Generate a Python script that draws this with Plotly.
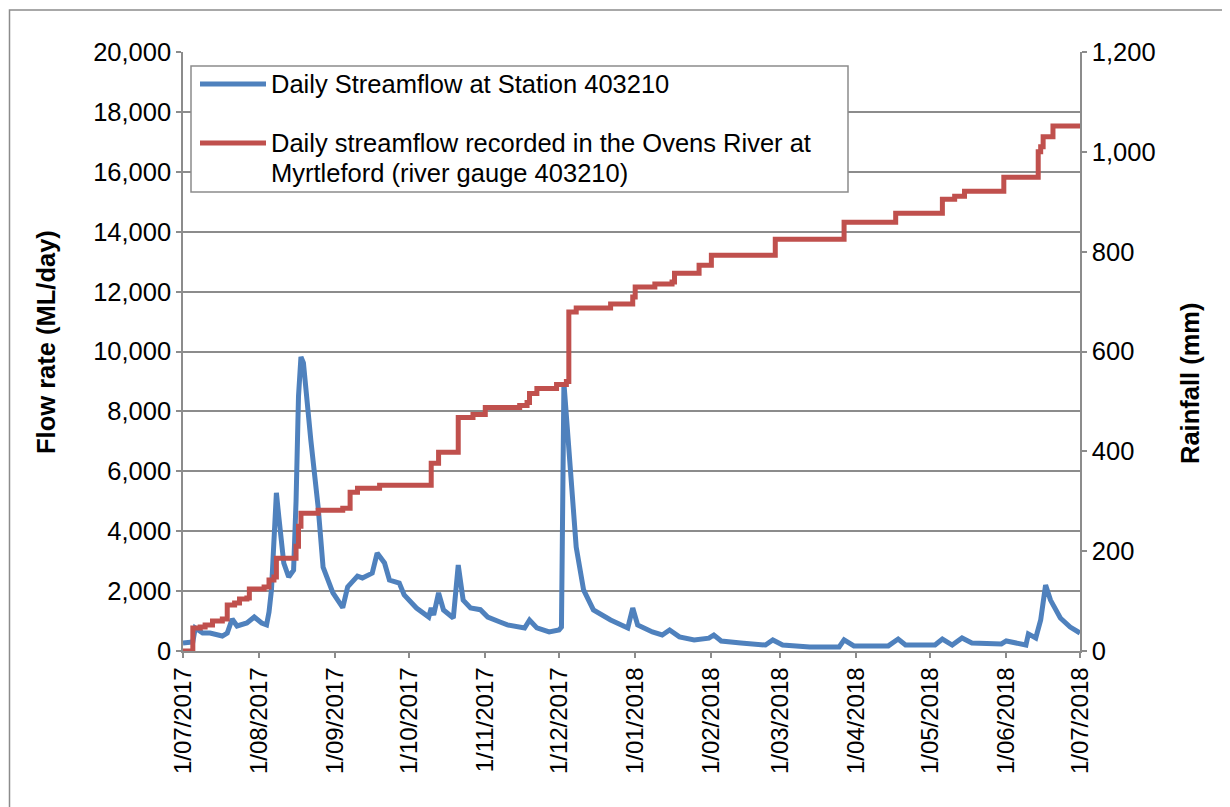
import plotly.graph_objects as go

# ---- data ----
flow_dates = [
    "2017-07-01", "2017-07-05", "2017-07-06", "2017-07-09", "2017-07-12", "2017-07-17",
    "2017-07-19", "2017-07-21", "2017-07-23", "2017-07-27", "2017-07-30", "2017-08-02",
    "2017-08-04", "2017-08-05", "2017-08-06", "2017-08-08", "2017-08-09", "2017-08-11",
    "2017-08-13", "2017-08-15", "2017-08-16", "2017-08-17", "2017-08-18", "2017-08-19",
    "2017-08-22", "2017-08-25", "2017-08-27", "2017-08-31", "2017-09-04", "2017-09-06",
    "2017-09-10", "2017-09-12", "2017-09-16", "2017-09-18", "2017-09-21", "2017-09-23",
    "2017-09-27", "2017-09-29", "2017-10-04", "2017-10-09", "2017-10-10", "2017-10-11",
    "2017-10-13", "2017-10-15", "2017-10-19", "2017-10-21", "2017-10-23", "2017-10-26",
    "2017-10-30", "2017-11-02", "2017-11-07", "2017-11-10", "2017-11-17", "2017-11-19",
    "2017-11-22", "2017-11-27", "2017-12-01", "2017-12-02", "2017-12-03", "2017-12-06",
    "2017-12-08", "2017-12-11", "2017-12-15", "2017-12-22", "2017-12-29", "2017-12-31",
    "2018-01-02", "2018-01-08", "2018-01-12", "2018-01-15", "2018-01-19", "2018-01-25",
    "2018-01-31", "2018-02-02", "2018-02-05", "2018-02-13", "2018-02-23", "2018-02-26",
    "2018-03-02", "2018-03-13", "2018-03-25", "2018-03-27", "2018-03-31", "2018-04-14",
    "2018-04-18", "2018-04-21", "2018-05-03", "2018-05-06", "2018-05-10", "2018-05-14",
    "2018-05-18", "2018-05-30", "2018-06-01", "2018-06-09", "2018-06-10", "2018-06-13",
    "2018-06-14", "2018-06-15", "2018-06-17", "2018-06-19", "2018-06-23", "2018-06-27",
    "2018-07-01",
]
flow_values = [
    270, 300, 770, 600, 600, 500,
    600, 1070, 835, 935, 1135, 935,
    870, 1300, 2040, 5280, 4470, 2940,
    2470, 2700, 5000, 8500, 9820, 9620,
    7050, 4800, 2800, 1940, 1450, 2140,
    2500, 2440, 2600, 3270, 2940, 2370,
    2270, 1870, 1435, 1135, 1435, 1200,
    1940, 1370, 1100, 2870, 1700, 1435,
    1380, 1135, 970, 870, 770, 1035,
    770, 635, 700, 800, 8950, 5700,
    3470, 2040, 1370, 1035, 770, 1435,
    870, 635, 535, 700, 470, 370,
    430, 535, 335, 270, 200, 370,
    200, 135, 135, 370, 170, 170,
    400, 200, 200, 400, 200, 435,
    270, 235, 335, 200, 570, 435,
    700, 1035, 2200, 1700, 1100, 800,
    600,
]

rain_dates = [
    "2017-07-01", "2017-07-05", "2017-07-08", "2017-07-10", "2017-07-13", "2017-07-17",
    "2017-07-19", "2017-07-22", "2017-07-24", "2017-07-27", "2017-07-28", "2017-08-03",
    "2017-08-05", "2017-08-07", "2017-08-08", "2017-08-16", "2017-08-17", "2017-08-18",
    "2017-08-25", "2017-09-04", "2017-09-07", "2017-09-10", "2017-09-19", "2017-10-10",
    "2017-10-13", "2017-10-21", "2017-10-27", "2017-11-01", "2017-11-15", "2017-11-18",
    "2017-11-19", "2017-11-22", "2017-11-30", "2017-12-04", "2017-12-05", "2017-12-08",
    "2017-12-22", "2017-12-31", "2018-01-01", "2018-01-09", "2018-01-16", "2018-01-17",
    "2018-01-27", "2018-02-01", "2018-02-27", "2018-03-27", "2018-04-17", "2018-05-06",
    "2018-05-11", "2018-05-15", "2018-05-31", "2018-06-14", "2018-06-15", "2018-06-16",
    "2018-06-20", "2018-07-01",
]
rain_values = [
    0, 46, 48, 52, 60, 64,
    92, 96, 104, 106, 124, 128,
    142, 148, 186, 210, 250, 276,
    282, 286, 318, 326, 332, 376,
    398, 468, 474, 488, 492, 498,
    516, 526, 534, 540, 679, 687,
    695, 709, 729, 735, 739, 757,
    773, 793, 825, 859, 877, 905,
    911, 921, 949, 1000, 1010, 1030,
    1052, 1052,
]

tick_dates = [
    "2017-07-01", "2017-08-01", "2017-09-01", "2017-10-01", "2017-11-01", "2017-12-01",
    "2018-01-01", "2018-02-01", "2018-03-01", "2018-04-01", "2018-05-01", "2018-06-01",
    "2018-07-01",
]
tick_labels = [
    "1/07/2017", "1/08/2017", "1/09/2017", "1/10/2017", "1/11/2017", "1/12/2017",
    "1/01/2018", "1/02/2018", "1/03/2018", "1/04/2018", "1/05/2018", "1/06/2018",
    "1/07/2018",
]

flow_name = "Daily Streamflow at Station 403210"
rain_name_lines = ["Daily streamflow recorded in the Ovens River at", "Myrtleford (river gauge 403210)"]
left_title = "Flow rate (ML/day)"
right_title = "Rainfall (mm)"

FONT = "Liberation Sans, Arial, sans-serif"
FS = 25.5
GRID = "#8c8c8c"
BLUE = "#4F81BD"
RED = "#C0504D"

# the page body adds an 8px offset; work in screen pixels and shift
OFF = 8
FIG_W, FIG_H = 1230 - OFF, 807 - OFF
L, R, T, B = 183 - OFF, 1080 - OFF, 52 - OFF, 651 - OFF
W, H = R - L, B - T


def px(x):
    return (x - OFF - L) / W


def py(y):
    return (B - (y - OFF)) / H


fig = go.Figure()
fig.add_trace(go.Scatter(
    x=flow_dates, y=flow_values, name=flow_name, mode="lines",
    line=dict(color=BLUE, width=5), showlegend=False,
))
fig.add_trace(go.Scatter(
    x=rain_dates, y=rain_values, name="<br>".join(rain_name_lines), mode="lines", yaxis="y2",
    line=dict(color=RED, width=5, shape="hv"), showlegend=False,
))

axis_common = dict(
    showline=True, linecolor=GRID, linewidth=1.5,
    ticks="outside", ticklen=5, tickcolor=GRID, tickwidth=1.5,
    zeroline=False, automargin=False,
)

fig.update_layout(
    width=FIG_W, height=FIG_H,
    margin=dict(l=L, r=FIG_W - R, t=T, b=FIG_H - B, autoexpand=False),
    paper_bgcolor="white", plot_bgcolor="white",
    font=dict(family=FONT, size=FS, color="black"),
    showlegend=False,
    xaxis=dict(
        type="date", range=["2017-07-01", "2018-07-01"],
        tickvals=tick_dates, ticktext=tick_labels, tickangle=-90,
        showgrid=False, tickfont=dict(size=24), **axis_common,
    ),
    yaxis=dict(
        range=[0, 20000], dtick=2000, tickformat=",d",
        showgrid=True, gridcolor=GRID, gridwidth=1.5,
        tickfont=dict(size=FS), **axis_common,
    ),
    yaxis2=dict(
        range=[0, 1200], dtick=200, tickformat=",d", overlaying="y", side="right",
        showgrid=False, tickfont=dict(size=FS), **axis_common,
    ),
)

# chart-area border (Excel style)
fig.add_shape(
    type="rect", xref="paper", yref="paper",
    x0=px(OFF + 1.5), x1=px(1240), y0=py(820), y1=py(10),
    line=dict(color=GRID, width=1.5), fillcolor="rgba(0,0,0,0)", layer="below",
)

# axis titles
fig.add_annotation(
    text="<b>%s</b>" % left_title, xref="paper", yref="paper",
    x=px(46), y=py(342), textangle=-90, showarrow=False,
    xanchor="center", yanchor="middle", font=dict(size=FS),
)
fig.add_annotation(
    text="<b>%s</b>" % right_title, xref="paper", yref="paper",
    x=px(1190), y=py(383), textangle=-90, showarrow=False,
    xanchor="center", yanchor="middle", font=dict(size=FS),
)

# legend box (Excel style)
fig.add_shape(
    type="rect", xref="paper", yref="paper",
    x0=px(191), x1=px(848), y0=py(192), y1=py(66),
    line=dict(color=GRID, width=1.5), fillcolor="white", layer="above",
)
legend_items = [
    (BLUE, [flow_name], 84),
    (RED, rain_name_lines, 143),
]
for color, lines, ymid in legend_items:
    fig.add_shape(
        type="line", xref="paper", yref="paper",
        x0=px(200), x1=px(266), y0=py(ymid), y1=py(ymid),
        line=dict(color=color, width=5), layer="above",
    )
    for i, t in enumerate(lines):
        fig.add_annotation(
            text=t, xref="paper", yref="paper", x=px(269), y=py(ymid + 30 * i),
            showarrow=False, xanchor="left", yanchor="middle", font=dict(size=FS),
        )

fig.write_html("out.html")
